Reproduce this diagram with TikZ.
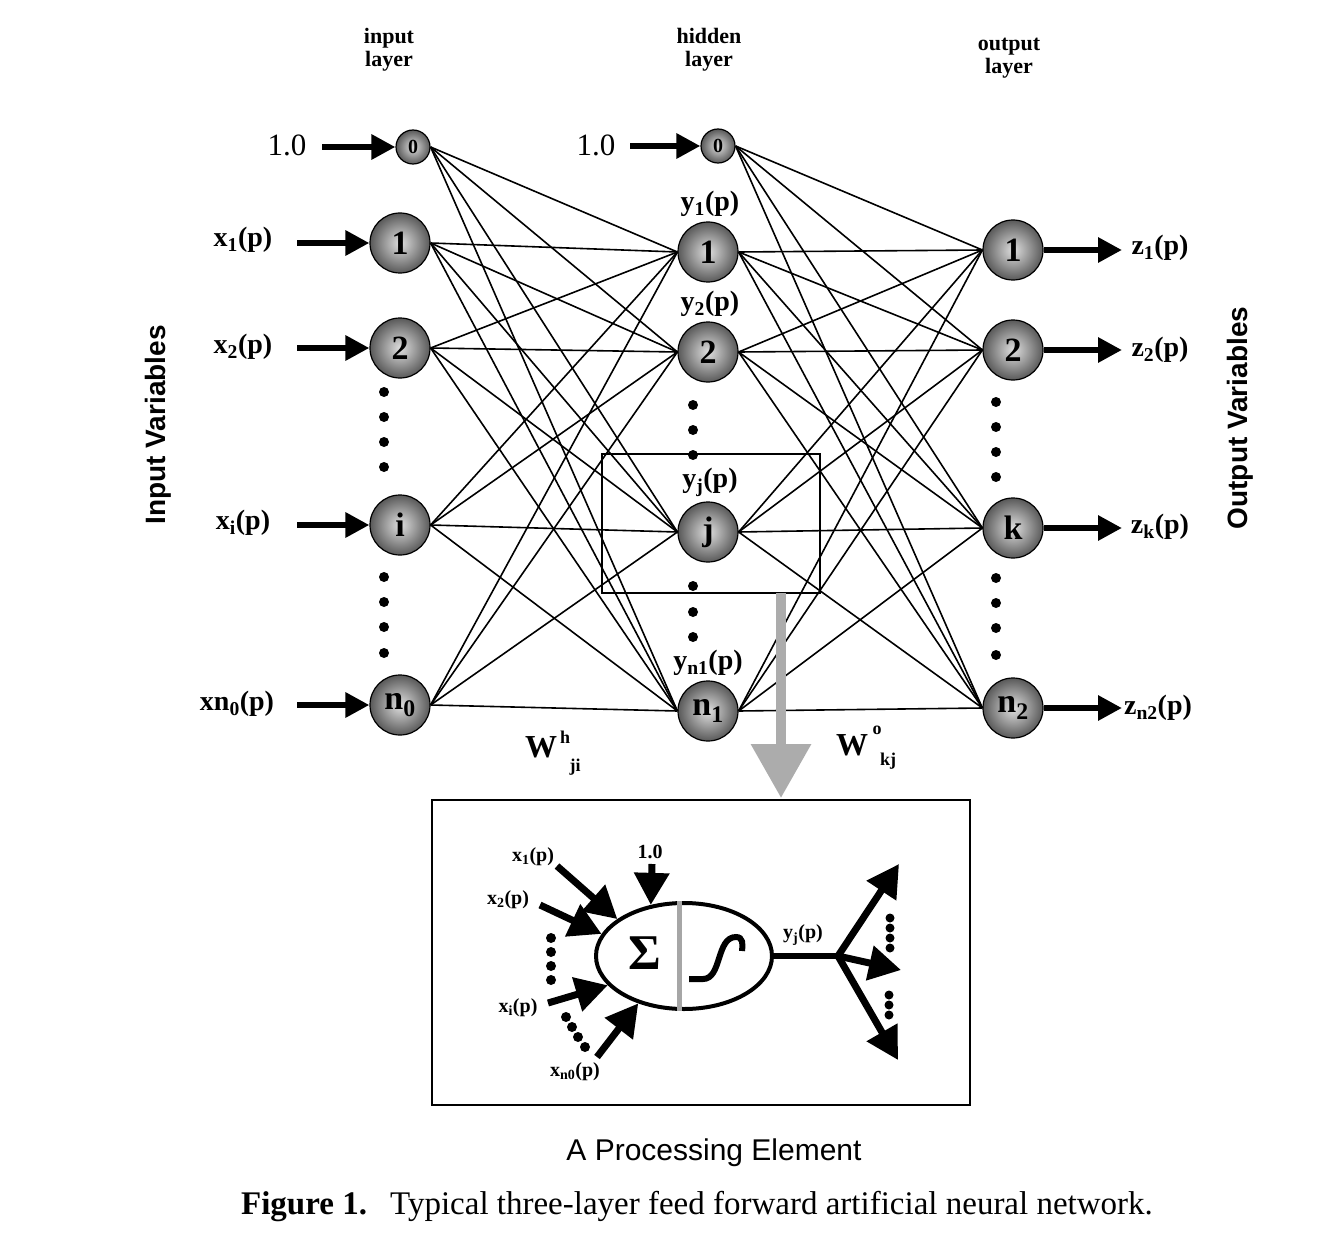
\documentclass[tikz,border=0pt]{standalone}
\usepackage{fontspec}
\setmainfont{Liberation Serif}
\setsansfont{Liberation Sans}
\usepackage{tikz}
\usetikzlibrary{positioning}
\usetikzlibrary{arrows.meta, shapes.geometric, calc}
\tikzstyle{neuron} = [circle, draw=black, line width=1.2pt, minimum size=60pt, inner sep=0pt, shading=radial, inner color=gray!25, outer color=gray!70!black, font=\fontsize{34}{34}\selectfont\bfseries]
\tikzstyle{bias} = [neuron, minimum size=34pt, font=\fontsize{20}{20}\selectfont\bfseries]
\tikzstyle{laytitle} = [align=center, font=\fontsize{22}{23}\selectfont\bfseries]
\tikzstyle{varlbl} = [font=\fontsize{28}{28}\selectfont\bfseries]
\tikzstyle{onelbl} = [font=\fontsize{31}{31}\selectfont]
\tikzstyle{sidelbl} = [rotate=90, font=\sffamily\bfseries\fontsize{28}{28}\selectfont]
\tikzstyle{wlbl} = [font=\fontsize{32}{32}\selectfont\bfseries]
\tikzstyle{idxlbl} = [font=\fontsize{18}{18}\selectfont\bfseries]
\tikzstyle{pelbl} = [font=\fontsize{20}{20}\selectfont\bfseries]
\tikzstyle{link} = [line width=1.6pt]
\tikzstyle{arrow} = [line width=6pt, -{Triangle[length=24pt, width=24pt]}]
\tikzstyle{pearrow} = [line width=7pt, -{Triangle[length=32pt, width=34pt]}]

\begin{document}
\begin{tikzpicture}[x=1pt,y=-1pt]
      \useasboundingbox (0,0) rectangle (1336,1260);
      %%%%%%%%%%%%%%%%%%%%%%%%%%%%%%%%%%%%%%%
      \node (tin) at (389,50) [laytitle] {input\\layer};
      \node (thid) at (709,50) [laytitle] {hidden\\layer};
      \node (tout) at (1009,58) [laytitle] {output\\layer};
      \node (lin) at (158,425) [sidelbl] {Input Variables};
      \node (lout) at (1240,418) [sidelbl] {Output Variables};
      % input layer
      \draw (413,147) node (i0) [bias] {0};
      \draw (400,243) node (i1) [neuron] {1};
      \draw (400,348) node (i2) [neuron] {2};
      \draw (400,525) node (ii) [neuron] {i};
      \draw (400,705) node (in) [neuron] {n\textsubscript{0}};
      % hidden layer
      \draw (718,146) node (h0) [bias] {0};
      \draw (708,252) node (h1) [neuron] {1};
      \draw (708,352) node (h2) [neuron] {2};
      \draw (708,532) node (hj) [neuron] {j};
      \draw (708,711) node (hn) [neuron] {n\textsubscript{1}};
      % output layer
      \draw (1013,250) node (o1) [neuron] {1};
      \draw (1013,350) node (o2) [neuron] {2};
      \draw (1013,528) node (ok) [neuron] {k};
      \draw (1013,708) node (on) [neuron] {n\textsubscript{2}};
      % weights input -> hidden
      \draw[link] (i0.east)--(h1.west);
      \draw[link] (i0.east)--(h2.west);
      \draw[link] (i0.east)--(hj.west);
      \draw[link] (i0.east)--(hn.west);
      \draw[link] (i1.east)--(h1.west);
      \draw[link] (i1.east)--(h2.west);
      \draw[link] (i1.east)--(hj.west);
      \draw[link] (i1.east)--(hn.west);
      \draw[link] (i2.east)--(h1.west);
      \draw[link] (i2.east)--(h2.west);
      \draw[link] (i2.east)--(hj.west);
      \draw[link] (i2.east)--(hn.west);
      \draw[link] (ii.east)--(h1.west);
      \draw[link] (ii.east)--(h2.west);
      \draw[link] (ii.east)--(hj.west);
      \draw[link] (ii.east)--(hn.west);
      \draw[link] (in.east)--(h1.west);
      \draw[link] (in.east)--(h2.west);
      \draw[link] (in.east)--(hj.west);
      \draw[link] (in.east)--(hn.west);
      % weights hidden -> output
      \draw[link] (h0.east)--(o1.west);
      \draw[link] (h0.east)--(o2.west);
      \draw[link] (h0.east)--(ok.west);
      \draw[link] (h0.east)--(on.west);
      \draw[link] (h1.east)--(o1.west);
      \draw[link] (h1.east)--(o2.west);
      \draw[link] (h1.east)--(ok.west);
      \draw[link] (h1.east)--(on.west);
      \draw[link] (h2.east)--(o1.west);
      \draw[link] (h2.east)--(o2.west);
      \draw[link] (h2.east)--(ok.west);
      \draw[link] (h2.east)--(on.west);
      \draw[link] (hj.east)--(o1.west);
      \draw[link] (hj.east)--(o2.west);
      \draw[link] (hj.east)--(ok.west);
      \draw[link] (hj.east)--(on.west);
      \draw[link] (hn.east)--(o1.west);
      \draw[link] (hn.east)--(o2.west);
      \draw[link] (hn.east)--(ok.west);
      \draw[link] (hn.east)--(on.west);
      % inputs
      \node (b1) at (287,145) [onelbl] {1.0};
      \node (b2) at (596,145) [onelbl] {1.0};
      \node (x1) at (243,240) [varlbl] {x\textsubscript{1}(p)};
      \node (x2) at (243,347) [varlbl] {x\textsubscript{2}(p)};
      \node (xi) at (243,523) [varlbl] {x\textsubscript{i}(p)};
      \node (xn) at (237,704) [varlbl] {xn\textsubscript{0}(p)};
      \coordinate (sb1) at (322,147);
      \coordinate (sb2) at (630,146);
      \coordinate (s1) at (297,243);
      \coordinate (s2) at (297,348);
      \coordinate (si) at (297,525);
      \coordinate (sn) at (297,705);
      \draw[arrow] (sb1)--(i0.west);
      \draw[arrow] (sb2)--(h0.west);
      \draw[arrow] (s1)--(i1.west);
      \draw[arrow] (s2)--(i2.west);
      \draw[arrow] (si)--(ii.west);
      \draw[arrow] (sn)--(in.west);
      % hidden outputs
      \node (y1) at (710,204) [varlbl] {y\textsubscript{1}(p)};
      \node (y2) at (710,304) [varlbl] {y\textsubscript{2}(p)};
      \node (yj) at (710,482) [varlbl] {y\textsubscript{j}(p)};
      \node (yn) at (708,663) [varlbl] {y\textsubscript{n1}(p)};
      % outputs
      \coordinate (e1) at (1122,250);
      \coordinate (e2) at (1122,350);
      \coordinate (ek) at (1122,528);
      \coordinate (en) at (1122,708);
      \draw[arrow] (o1.east)--(e1);
      \draw[arrow] (o2.east)--(e2);
      \draw[arrow] (ok.east)--(ek);
      \draw[arrow] (on.east)--(en);
      \node (z1) at (1160,248) [varlbl] {z\textsubscript{1}(p)};
      \node (z2) at (1160,350) [varlbl] {z\textsubscript{2}(p)};
      \node (zk) at (1160,527) [varlbl] {z\textsubscript{k}(p)};
      \node (zn) at (1158,708) [varlbl] {z\textsubscript{n2}(p)};
      % dots
      \fill (384,392) circle(5);
      \fill (384,417) circle(5);
      \fill (384,442) circle(5);
      \fill (384,467) circle(5);
      \fill (384,577) circle(5);
      \fill (384,602) circle(5);
      \fill (384,627) circle(5);
      \fill (384,653) circle(5);
      \fill (693,405) circle(5);
      \fill (693,430) circle(5);
      \fill (693,455) circle(5);
      \fill (693,586) circle(5);
      \fill (693,612) circle(5);
      \fill (693,637) circle(5);
      \fill (996,402) circle(5);
      \fill (996,427) circle(5);
      \fill (996,452) circle(5);
      \fill (996,477) circle(5);
      \fill (996,578) circle(5);
      \fill (996,603) circle(5);
      \fill (996,628) circle(5);
      \fill (996,655) circle(5);
      % weight labels
      \node (wh) at (541,747) [wlbl] {W};
      \node (whs) at (565,737) [idxlbl] {h};
      \node (whb) at (575,767) [idxlbl] {ji};
      \node (wo) at (852,745) [wlbl] {W};
      \node (wos) at (877,730) [idxlbl] {o};
      \node (wob) at (888,761) [idxlbl] {kj};
      % zoom box and arrow
      \node (jbox) at (711,523.5) [draw, line width=2pt, minimum width=218pt, minimum height=139pt] {};
      \coordinate (d1) at (781,593);
      \coordinate (d2) at (781,798);
      \draw[line width=10pt, gray!65, -{Triangle[length=54pt, width=58pt]}] (d1)--(d2);
      % processing element
      \node (pebox) at (701,952.5) [draw, line width=2pt, minimum width=538pt, minimum height=305pt] {};
      \node (pe) at (684,956) [ellipse, draw, line width=4pt, minimum width=176pt, minimum height=106pt] {};
      \draw[gray!70, line width=5pt] ([xshift=-5pt]pe.north)--([xshift=-5pt]pe.south);
      \node (sig) at (645,953) [font=\fontsize{50}{50}\selectfont\bfseries] {Σ};
      \draw[line width=6pt] (689,979)--(703,979) .. controls (722,979) and (716,937) .. (736,937) .. controls (743,937) and (743,944) .. (742,951);
      \node (px1) at (533,857) [pelbl] {x\textsubscript{1}(p)};
      \node (px2) at (508,900) [pelbl] {x\textsubscript{2}(p)};
      \node (pxi) at (518,1008) [pelbl] {x\textsubscript{i}(p)};
      \node (pxn) at (575,1072) [pelbl] {x\textsubscript{n0}(p)};
      \node (pb) at (650,852) [pelbl] {1.0};
      \node (pyj) at (803,935) [pelbl] {y\textsubscript{j}(p)};
      \coordinate (q1) at (557,866);
      \coordinate (q2) at (540,905);
      \coordinate (qi) at (548,1003);
      \coordinate (qn) at (597,1057);
      \coordinate (qb) at (652,864);
      \draw[pearrow] (q1)--(pe.151);
      \draw[pearrow] (q2)--(pe.165);
      \draw[pearrow] (qi)--(pe.201);
      \draw[pearrow] (qn)--(pe.226);
      \draw[pearrow] (qb)--(pe.123);
      \coordinate (br) at (838,956);
      \coordinate (r1) at (899,864);
      \coordinate (r2) at (901,970);
      \coordinate (r3) at (898,1060);
      \draw[line width=6pt] (pe.east)--(br);
      \draw[pearrow] (br)--(r1);
      \draw[pearrow] (br)--(r2);
      \draw[pearrow] (br)--(r3);
      \fill (551,938) circle(5);
      \fill (551,952) circle(5);
      \fill (551,966) circle(5);
      \fill (551,980) circle(5);
      \fill (566,1017) circle(5);
      \fill (572,1027) circle(5);
      \fill (578,1037) circle(5);
      \fill (585,1047) circle(5);
      \fill (890,918) circle(4.5);
      \fill (890,928) circle(4.5);
      \fill (890,938) circle(4.5);
      \fill (890,948) circle(4.5);
      \fill (889,995) circle(4.5);
      \fill (889,1005) circle(4.5);
      \fill (889,1015) circle(4.5);
      % captions
      \node (pecap) at (714,1153) [font=\sffamily\fontsize{30}{30}\selectfont] {A Processing Element};
      \node (fig) at (697,1207) [font=\fontsize{33}{33}\selectfont] {\textbf{Figure 1.}\hspace{0.7em}Typical three-layer feed forward artificial neural network.};
      \end{tikzpicture}
\end{document}
